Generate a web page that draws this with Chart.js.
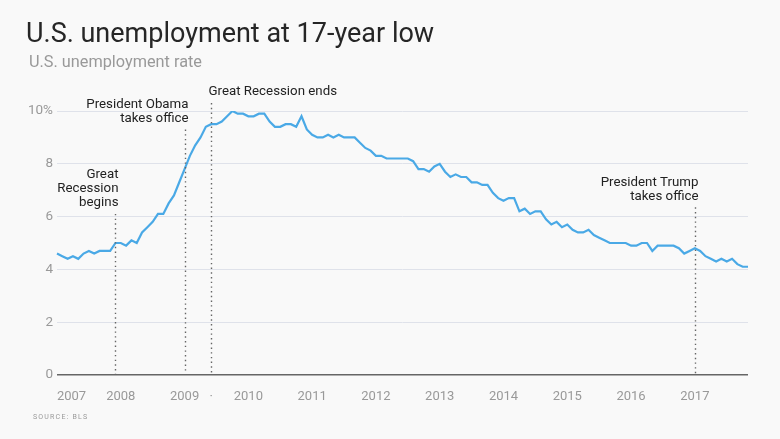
<!DOCTYPE html>
<html>
<head>
<meta charset="utf-8">
<script src="https://cdn.jsdelivr.net/npm/chart.js"></script>
<style>
  body { margin: 0; background: #f9f9f9; font-family: Roboto, "Noto Sans", sans-serif; }
  #wrap { position: relative; width: 780px; height: 439px; background: #f9f9f9; }
  #title { position: absolute; left: 26px; top: 18px; font-size: 27px; line-height: 31px; color: #262626; white-space: nowrap; }
  #subtitle { position: absolute; left: 29px; top: 52px; font-size: 16.3px; line-height: 19px; color: #999; white-space: nowrap; }
  #source { position: absolute; left: 33px; top: 413px; font-size: 7px; line-height: 8px; letter-spacing: 1.2px; color: #999; }
  canvas { position: absolute; left: 0; top: 0; }
</style>
</head>
<body>
<div id="wrap">
  <canvas id="chart" width="780" height="439"></canvas>
  <div id="title">U.S. unemployment at 17-year low</div>
  <div id="subtitle">U.S. unemployment rate</div>
  <div id="source">SOURCE: BLS</div>
</div>
<script>
// Years shown on the x axis (tick labels at January)
const years = ['2007', '2008', '2009', '2010', '2011', '2012', '2013', '2014', '2015', '2016', '2017'];
const monthNames = ['Jan', 'Feb', 'Mar', 'Apr', 'May', 'Jun', 'Jul', 'Aug', 'Sep', 'Oct', 'Nov', 'Dec'];

// Monthly unemployment rate (%), Jan 2007 - Nov 2017
const rate2007 = [4.6, 4.5, 4.4, 4.5, 4.4, 4.6, 4.7, 4.6, 4.7, 4.7, 4.7, 5.0];
const rate2008 = [5.0, 4.9, 5.1, 5.0, 5.4, 5.6, 5.8, 6.1, 6.1, 6.5, 6.8, 7.3];
const rate2009 = [7.8, 8.3, 8.7, 9.0, 9.4, 9.5, 9.5, 9.6, 9.8, 10.0, 9.9, 9.9];
const rate2010 = [9.8, 9.8, 9.9, 9.9, 9.6, 9.4, 9.4, 9.5, 9.5, 9.4, 9.8, 9.3];
const rate2011 = [9.1, 9.0, 9.0, 9.1, 9.0, 9.1, 9.0, 9.0, 9.0, 8.8, 8.6, 8.5];
const rate2012 = [8.3, 8.3, 8.2, 8.2, 8.2, 8.2, 8.2, 8.1, 7.8, 7.8, 7.7, 7.9];
const rate2013 = [8.0, 7.7, 7.5, 7.6, 7.5, 7.5, 7.3, 7.3, 7.2, 7.2, 6.9, 6.7];
const rate2014 = [6.6, 6.7, 6.7, 6.2, 6.3, 6.1, 6.2, 6.2, 5.9, 5.7, 5.8, 5.6];
const rate2015 = [5.7, 5.5, 5.4, 5.4, 5.5, 5.3, 5.2, 5.1, 5.0, 5.0, 5.0, 5.0];
const rate2016 = [4.9, 4.9, 5.0, 5.0, 4.7, 4.9, 4.9, 4.9, 4.9, 4.8, 4.6, 4.7];
const rate2017 = [4.8, 4.7, 4.5, 4.4, 4.3, 4.4, 4.3, 4.4, 4.2, 4.1, 4.1];

const rates = [].concat(rate2007, rate2008, rate2009, rate2010, rate2011, rate2012,
  rate2013, rate2014, rate2015, rate2016, rate2017);

// y axis ticks
const yTicks = [0, 2, 4, 6, 8, 10];

// Events marked with dotted lines (month index from Jan 2007)
const eventMonths = [11, 24, 29, 120];
const eventLabels = [
  ['Great', 'Recession', 'begins'],
  ['President Obama', 'takes office'],
  ['Great Recession ends'],
  ['President Trump', 'takes office']
];
const eventLineTops = [6.1, 9.3, 10.3, 6.35]; // in % units, where the dotted line starts

// month categories
const months = [];
years.forEach(y => monthNames.forEach(m => months.push(m + ' ' + y)));
months.length = rates.length;

const eventPlugin = {
  id: 'events',
  afterDatasetsDraw(chart) {
    const { ctx, scales: { x, y } } = chart;
    const bottom = y.getPixelForValue(0);
    ctx.save();
    eventMonths.forEach((m, i) => {
      const px = Math.round(x.getPixelForValue(m)) + 0.5;
      const top = y.getPixelForValue(eventLineTops[i]);
      ctx.strokeStyle = '#666';
      ctx.lineWidth = 1.4;
      ctx.setLineDash([1.4, 3.3]);
      ctx.beginPath();
      ctx.moveTo(px, top);
      ctx.lineTo(px, bottom);
      ctx.stroke();

      const lines = eventLabels[i];
      const leftAlign = lines.length === 1;
      ctx.setLineDash([]);
      ctx.fillStyle = '#222';
      ctx.font = '13.3px Roboto, "Noto Sans", sans-serif';
      ctx.textAlign = leftAlign ? 'left' : 'right';
      ctx.textBaseline = 'middle';
      const tx = leftAlign ? px - 3 : px + 3;
      lines.forEach((t, j) => {
        ctx.fillText(t, tx, top - 11 - (lines.length - 1 - j) * 14);
      });
    });
    ctx.restore();
  }
};

new Chart(document.getElementById('chart'), {
  type: 'line',
  data: {
    labels: months,
    datasets: [{
      data: rates,
      borderColor: '#4aa9e6',
      borderWidth: 2.2,
      pointRadius: 0,
      tension: 0,
      fill: false
    }]
  },
  options: {
    responsive: false,
    animation: false,
    layout: { padding: { top: 111, right: 32, bottom: 24, left: 0 } },
    plugins: { legend: { display: false }, tooltip: { enabled: false } },
    scales: {
      x: {
        offset: false,
        grid: { display: false },
        border: { display: false },
        afterFit: s => { s.height = 40; },
        ticks: {
          autoSkip: false,
          maxRotation: 0,
          padding: 6,
          color: '#999',
          font: { family: 'Roboto', size: 13 },
          callback: (v, i) => {
            if (i === 0) return '         ' + years[0];
            if (i === 29) return '·';
            return i % 12 === 0 ? years[i / 12] : '';
          }
        }
      },
      y: {
        min: 0,
        max: 10,
        afterFit: s => { s.width = 57; },
        afterBuildTicks: s => { s.ticks = yTicks.map(v => ({ value: v })); },
        border: { display: false },
        grid: {
          drawTicks: false,
          color: c => c.tick.value === 0 ? '#666' : '#dfe2ea',
          lineWidth: c => c.tick.value === 0 ? 1.5 : 1
        },
        ticks: {
          padding: 4,
          color: '#999',
          font: { family: 'Roboto', size: 13.5 },
          callback: v => v === 10 ? '10%' : v
        }
      }
    }
  },
  plugins: [eventPlugin]
});
</script>
</body>
</html>
